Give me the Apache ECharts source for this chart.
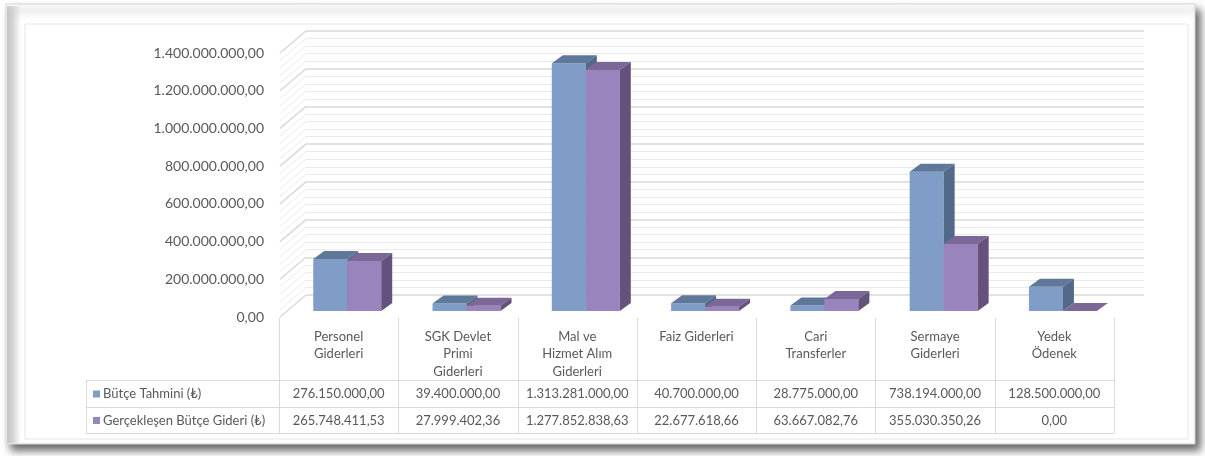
<!DOCTYPE html>
<html>
<head>
<meta charset="utf-8">
<script src="https://cdn.jsdelivr.net/npm/echarts@6/dist/echarts.min.js"></script>
<style>
  html, body { margin: 0; padding: 0; background: #fff; }
  #main { width: 1205px; height: 456px; }
</style>
</head>
<body>
<div id="main"></div>
<script>
// values
const categories = ['Personel\nGiderleri', 'SGK Devlet\nPrimi\nGiderleri', 'Mal ve\nHizmet Alım\nGiderleri', 'Faiz Giderleri', 'Cari\nTransferler', 'Sermaye\nGiderleri', 'Yedek\nÖdenek']
const seriesNames = ['Bütçe Tahmini (₺)', 'Gerçekleşen Bütçe Gideri (₺)']
const butceTahmini = [276150000, 39400000, 1313281000, 40700000, 28775000, 738194000, 128500000]
const gerceklesen = [265748411.53, 27999402.36, 1277852838.63, 22677618.66, 63667082.76, 355030350.26, 0]
const yMax = 1400000000
const yStep = 200000000

const FONT = 'Lato'
const TEXT = '#595959'
const LINE = '#D9D9D9'
const blue = { front: '#7F9DC6', top: '#5F7899', side: '#52698A' }
const purple = { front: '#9A84BE', top: '#7B6897', side: '#64517C' }

function trNum(v) {
  let parts = v.toFixed(2).split('.')
  return parts[0].replace(/\B(?=(\d{3})+(?!\d))/g, '.') + ',' + parts[1]
}

// 3D box: front face + top + right side
function boxRenderer(colors, slot) {
  return function (params, api) {
    let i = api.value(0)
    let base = api.coord([i, 0])
    let top = api.coord([i, api.value(1)])
    let band = api.size([1, 0])[0]
    let w = band * 0.285
    let sx = band * 0.072, sy = -6
    let dx = 11, dy = -8
    let x0 = base[0] + sx - w + slot * w
    let x1 = x0 + w
    let yB = base[1] + sy
    let yT = top[1] + sy
    return {
      type: 'group',
      children: [
        { type: 'rect', shape: { x: x0, y: yT, width: w, height: yB - yT }, style: { fill: colors.front } },
        { type: 'polygon', shape: { points: [[x0, yT], [x0 + dx, yT + dy], [x1 + dx, yT + dy], [x1, yT]] }, style: { fill: colors.top } },
        { type: 'polygon', shape: { points: [[x1, yT], [x1 + dx, yT + dy], [x1 + dx, yB + dy], [x1, yB]] }, style: { fill: colors.side } }
      ]
    }
  }
}

let chart = echarts.init(document.getElementById('main'))

chart.setOption({
  backgroundColor: '#fff',
  animation: false,
  textStyle: { fontFamily: FONT },
  grid: [
    { left: 279, right: 91, top: 53, bottom: 139 },
    { left: 306, right: 61, top: 31, bottom: 161 }
  ],
  xAxis: [
    {
      type: 'category', gridIndex: 0, data: categories,
      axisLine: { show: false }, axisTick: { show: false },
      axisLabel: { interval: 0, color: TEXT, fontSize: 13, lineHeight: 17.5, margin: 11, verticalAlign: 'top', fontFamily: FONT }
    },
    { type: 'category', gridIndex: 1, data: categories, show: false }
  ],
  yAxis: [
    {
      type: 'value', gridIndex: 0, min: 0, max: yMax, interval: yStep,
      axisLine: { show: false }, axisTick: { show: false }, splitLine: { show: false },
      axisLabel: { color: TEXT, fontSize: 14, margin: 15, fontFamily: FONT, formatter: v => trNum(v) }
    },
    {
      type: 'value', gridIndex: 1, min: 0, max: yMax, interval: yStep,
      axisLine: { show: false }, axisTick: { show: false }, axisLabel: { show: false },
      splitLine: { lineStyle: { color: LINE, width: 1.5 } },
      minorTick: { show: false, splitNumber: 5 },
      minorSplitLine: { show: true, lineStyle: { color: '#EBEBEB', width: 1 } }
    }
  ],
  series: [
    {
      name: seriesNames[0], type: 'custom', xAxisIndex: 0, yAxisIndex: 0,
      renderItem: boxRenderer(blue, 0),
      data: butceTahmini.map((v, i) => [i, v]), z: 3
    },
    {
      name: seriesNames[1], type: 'custom', xAxisIndex: 0, yAxisIndex: 0,
      renderItem: boxRenderer(purple, 1),
      data: gerceklesen.map((v, i) => [i, v]), z: 4
    }
  ]
})

// frame, side wall and data table, placed from the axes
let g = []
g.push({
  type: 'rect', z: -20, shape: { x: 6, y: 4, width: 1189, height: 440 },
  style: { fill: '#fff', stroke: '#D6D6D6', lineWidth: 1, shadowBlur: 8, shadowOffsetX: 5, shadowOffsetY: 6, shadowColor: 'rgba(0,0,0,0.6)' }
})
g.push({
  type: 'rect', z: -19, shape: { x: 7, y: 6, width: 14, height: 437 },
  style: { fill: new echarts.graphic.LinearGradient(0, 0, 1, 0, [{ offset: 0, color: 'rgba(0,0,0,0.2)' }, { offset: 1, color: 'rgba(0,0,0,0)' }]) }
})
g.push({
  type: 'rect', z: -18, shape: { x: 25, y: 24, width: 1163, height: 415 },
  style: { fill: 'none', stroke: '#E6E6E6', lineWidth: 1 }
})

let c0 = chart.convertToPixel({ xAxisIndex: 0 }, 0)
let band = chart.convertToPixel({ xAxisIndex: 0 }, 1) - c0
let frontLeft = c0 - band / 2
let frontRight = frontLeft + band * categories.length
let backLeft = chart.convertToPixel({ xAxisIndex: 1 }, 0) - (chart.convertToPixel({ xAxisIndex: 1 }, 1) - chart.convertToPixel({ xAxisIndex: 1 }, 0)) / 2

// side wall lines (major and minor)
let minorStep = yStep / 5
for (let k = 0; k * minorStep <= yMax; k++) {
  let v = k * minorStep
  let yf = chart.convertToPixel({ yAxisIndex: 0 }, v)
  let yb = chart.convertToPixel({ yAxisIndex: 1 }, v)
  let major = k % 5 === 0
  g.push({
    type: 'line', z: 1, shape: { x1: frontLeft + 1, y1: yf, x2: backLeft, y2: yb },
    style: { stroke: major ? LINE : '#EBEBEB', lineWidth: major ? 1.5 : 1 }
  })
}

// table
let yZero = chart.convertToPixel({ yAxisIndex: 0 }, 0)
let tableTop = yZero + 1
let row1 = 380, row2 = 407, rowEnd = 433
let legendLeft = 86
for (let k = 0; k <= categories.length; k++) {
  let x = Math.round(frontLeft + k * band) + 0.5
  g.push({ type: 'line', shape: { x1: x, y1: tableTop, x2: x, y2: rowEnd }, style: { stroke: LINE, lineWidth: 1 } })
}
g.push({ type: 'line', shape: { x1: legendLeft + 0.5, y1: row1, x2: legendLeft + 0.5, y2: rowEnd }, style: { stroke: LINE, lineWidth: 1 } })
;[row1, row2, rowEnd].forEach(y => {
  g.push({ type: 'line', shape: { x1: legendLeft, y1: y + 0.5, x2: frontRight + 0.5, y2: y + 0.5 }, style: { stroke: LINE, lineWidth: 1 } })
})
let rows = [[butceTahmini, blue.front, row1], [gerceklesen, purple.front, row2]]
rows.forEach((r, ri) => {
  let cy = (r[2] + (ri === 0 ? row2 : rowEnd)) / 2 + 0.5
  g.push({ type: 'rect', shape: { x: 93, y: cy - 3.5, width: 7, height: 7 }, style: { fill: r[1] } })
  g.push({ type: 'text', x: 103, y: cy, style: { text: seriesNames[ri], fill: TEXT, font: '13px ' + FONT, verticalAlign: 'middle', align: 'left' } })
  r[0].forEach((v, i) => {
    g.push({
      type: 'text', x: chart.convertToPixel({ xAxisIndex: 0 }, i), y: cy,
      style: { text: trNum(v), fill: TEXT, font: '13px ' + FONT, align: 'center', verticalAlign: 'middle' }
    })
  })
})

chart.setOption({ graphic: g })
</script>
</body>
</html>
